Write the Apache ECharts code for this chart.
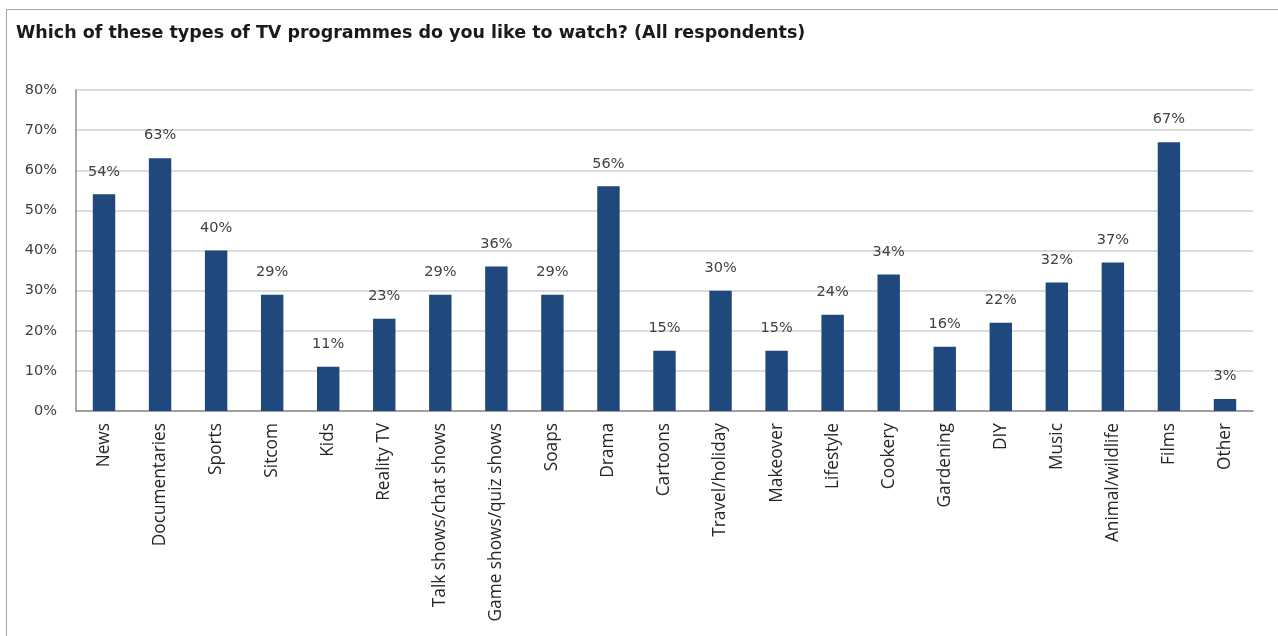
<!DOCTYPE html>
<html><head><meta charset="utf-8">
<script src="https://cdn.jsdelivr.net/npm/echarts@6/dist/echarts.min.js"></script>
<style>
html,body{margin:0;padding:0;background:#fff;}
#frame{position:absolute;left:6px;top:9px;width:1290px;height:650px;border:1.5px solid #a6a6a6;box-sizing:border-box;}
#c{position:absolute;left:0;top:0;width:1278px;height:636px;}
</style></head>
<body>
<div id="frame"></div>
<div id="c"></div>
<script>
const titleText = "Which of these types of TV programmes do you like to watch? (All respondents)";
const categories = ["News","Documentaries","Sports","Sitcom","Kids","Reality TV","Talk shows/chat shows","Game shows/quiz shows","Soaps","Drama","Cartoons","Travel/holiday","Makeover","Lifestyle","Cookery","Gardening","DIY","Music","Animal/wildlife","Films","Other"];
const values = [54,63,40,29,11,23,29,36,29,56,15,30,15,24,34,16,22,32,37,67,3];
const yTicks = {min:0, max:80, interval:10};

const chart = echarts.init(document.getElementById('c'), null, {renderer:'canvas'});
const font = '"DejaVu Sans", sans-serif';
const font2 = '"Open Sans", sans-serif';
chart.setOption({
  animation:false,
  title:{text:titleText,left:11,top:19,textStyle:{fontFamily:font,fontWeight:'bold',fontSize:17.5,color:'#1a1a1a'}},
  grid:{left:76,right:25,top:90,bottom:225,containLabel:false},
  xAxis:{type:'category',data:categories,
    axisLine:{lineStyle:{color:'#8c8c8c',width:1.5}},
    axisTick:{show:false},
    axisLabel:{rotate:90,interval:0,fontFamily:font2,fontSize:17.3,color:'#262626',margin:12}},
  yAxis:{type:'value',min:yTicks.min,max:yTicks.max,interval:yTicks.interval,
    axisLine:{show:true,lineStyle:{color:'#8c8c8c',width:1.5}},
    axisTick:{show:false},
    splitLine:{lineStyle:{color:'#dcdcdc',width:2}},
    axisLabel:{formatter:'{value}%',fontFamily:font,fontSize:14.5,color:'#404040',margin:19}},
  series:[{type:'bar',data:values,barWidth:'40%',
    itemStyle:{color:'#1f497d'},
    label:{show:true,position:'top',distance:15,formatter:'{c}%',fontFamily:font,fontSize:14.5,color:'#404040'}}]
});
</script>
</body></html>
